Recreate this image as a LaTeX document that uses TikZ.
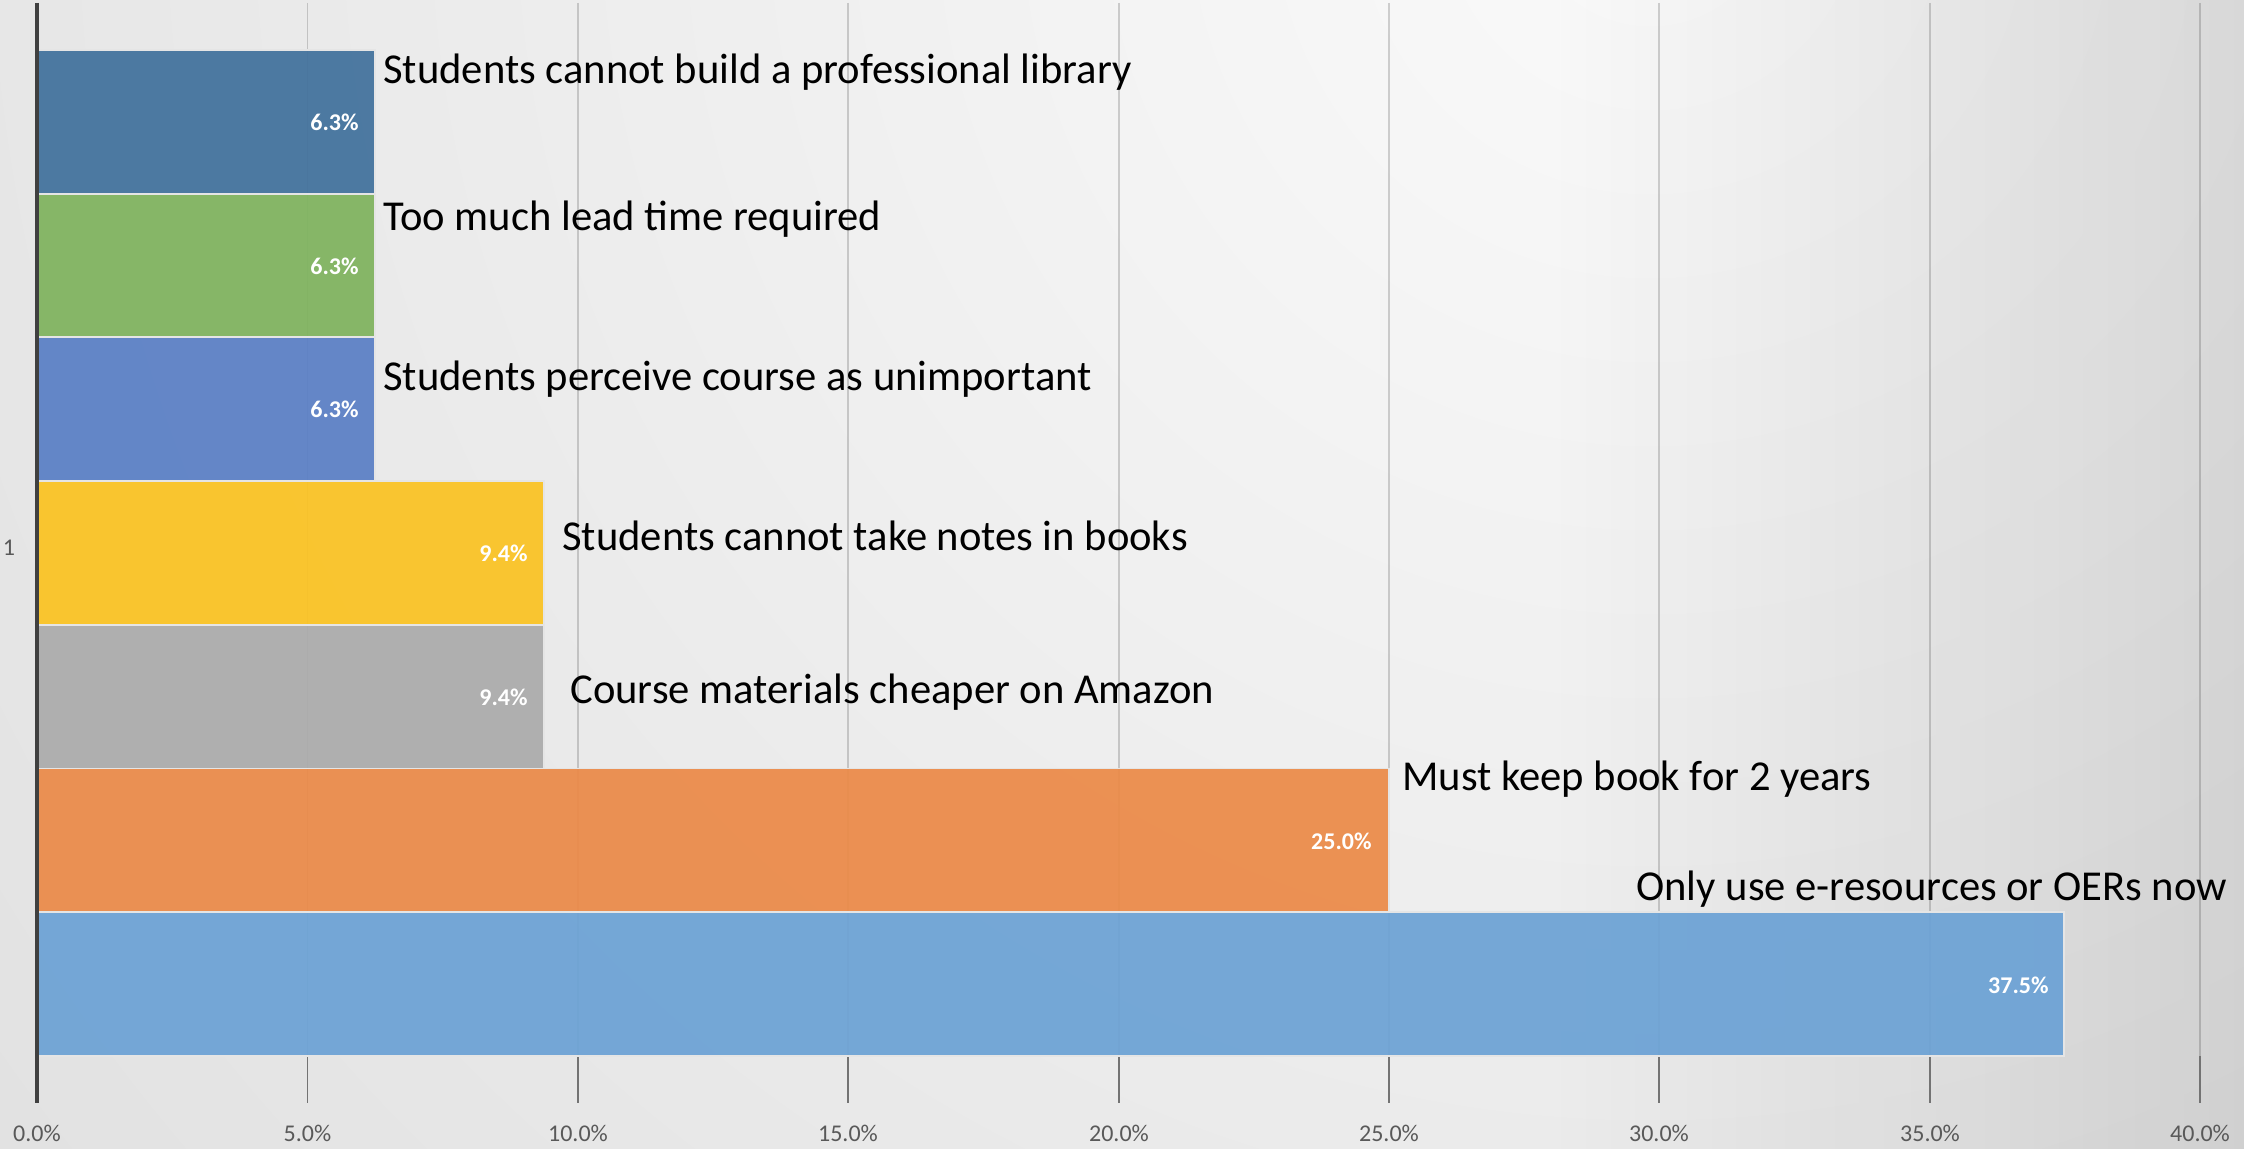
\documentclass[tikz,border=0pt]{standalone}
\usepackage{fontspec}
\setmainfont{Carlito}
\usetikzlibrary{fadings}
\definecolor{bgA}{HTML}{FAFAFA}
\definecolor{bgB}{HTML}{ECECEC}
\definecolor{bgC}{HTML}{D7D7D7}
\definecolor{bgD}{HTML}{CDCDCD}
\definecolor{axgray}{HTML}{595959}
\definecolor{cA}{HTML}{41719C}
\definecolor{cB}{HTML}{7FB35E}
\definecolor{cC}{HTML}{5A7FC5}
\definecolor{cD}{HTML}{FBC322}
\definecolor{cE}{HTML}{ABABAB}
\definecolor{cF}{HTML}{EB8A48}
\definecolor{cG}{HTML}{6CA2D5}
\pgfdeclareradialshading{bgrad}{\pgfpoint{0bp}{0bp}}{color(0bp)=(bgA); color(7bp)=(bgB); color(18bp)=(bgC); color(25bp)=(bgD); color(50bp)=(bgD)}
\tikzfading[name=toright, left color=transparent!100, right color=transparent!0]
\begin{document}
\begin{tikzpicture}[x=0.5pt,y=-0.5pt,
  lbl/.style={anchor=base west,inner sep=0pt,font=\fontsize{21.3}{25}\selectfont,text=black},
  val/.style={anchor=east,inner sep=0pt,font=\bfseries\fontsize{12}{14}\selectfont,text=white},
  ticklbl/.style={anchor=center,inner sep=0pt,font=\fontsize{12}{14}\selectfont,text=axgray},
  barbox/.style={draw=white!80!gray,line width=0.9pt,fill opacity=0.93},
  grid/.style={draw=black,draw opacity=0.17,line width=0.6pt},
  tickmark/.style={draw=black!55,line width=0.6pt}]
\useasboundingbox (0,0) rectangle (2244,1149);
\begin{scope}
  \clip (0,0) rectangle (2244,1149);
  \shade[shading=bgrad] (1650,-100) circle (4200);
  \fill[black,fill opacity=0.11,path fading=toright] (1550,0) rectangle (2244,1149);
\end{scope}
% gridlines and ticks
\foreach \x in {307.5,578,848,1119,1389,1659,1930,2200}{
  \draw[grid] (\x,3) -- (\x,1056);
  \draw[tickmark] (\x,1056) -- (\x,1103);
}
% bars
\fill[cA,barbox] (37,50) rectangle (375,193.7);
\fill[cB,barbox] (37,193.7) rectangle (375,337.4);
\fill[cC,barbox] (37,337.4) rectangle (375,481.1);
\fill[cD,barbox] (37,481.1) rectangle (544,624.8);
\fill[cE,barbox] (37,624.8) rectangle (544,768.5);
\fill[cF,barbox] (37,768.5) rectangle (1389,912.2);
\fill[cG,barbox] (37,912.2) rectangle (2064,1056);
\draw[draw=black!75,line width=2pt] (37,3) -- (37,1103);
% axis labels
\node[ticklbl] (t0) at (37,1133) {0.0\%};
\node[ticklbl] (t1) at (307.5,1133) {5.0\%};
\node[ticklbl] (t2) at (578,1133) {10.0\%};
\node[ticklbl] (t3) at (848,1133) {15.0\%};
\node[ticklbl] (t4) at (1119,1133) {20.0\%};
\node[ticklbl] (t5) at (1389,1133) {25.0\%};
\node[ticklbl] (t6) at (1659,1133) {30.0\%};
\node[ticklbl] (t7) at (1930,1133) {35.0\%};
\node[ticklbl] (t8) at (2200,1133) {40.0\%};
\node[ticklbl] (cat) at (9,548) {1};
% value labels
\node[val] (vA) at (359,122) {6.3\%};
\node[val] (vB) at (359,266) {6.3\%};
\node[val] (vC) at (359,409) {6.3\%};
\node[val] (vD) at (528,553) {9.4\%};
\node[val] (vE) at (528,697) {9.4\%};
\node[val] (vF) at (1372,841) {25.0\%};
\node[val] (vG) at (2049,985) {37.5\%};
% category labels
\node[lbl] (lA) at (383,84) {Students cannot build a professional library};
\node[lbl] (lB) at (383,231) {Too much lead time required};
\node[lbl] (lC) at (383,391) {Students perceive course as unimportant};
\node[lbl] (lD) at (562,551) {Students cannot take notes in books};
\node[lbl] (lE) at (570,704) {Course materials cheaper on Amazon};
\node[lbl] (lF) at (1402,790) {Must keep book for 2 years};
\node[lbl] (lG) at (1636,900) {Only use e-resources or OERs now};
\end{tikzpicture}
\end{document}
